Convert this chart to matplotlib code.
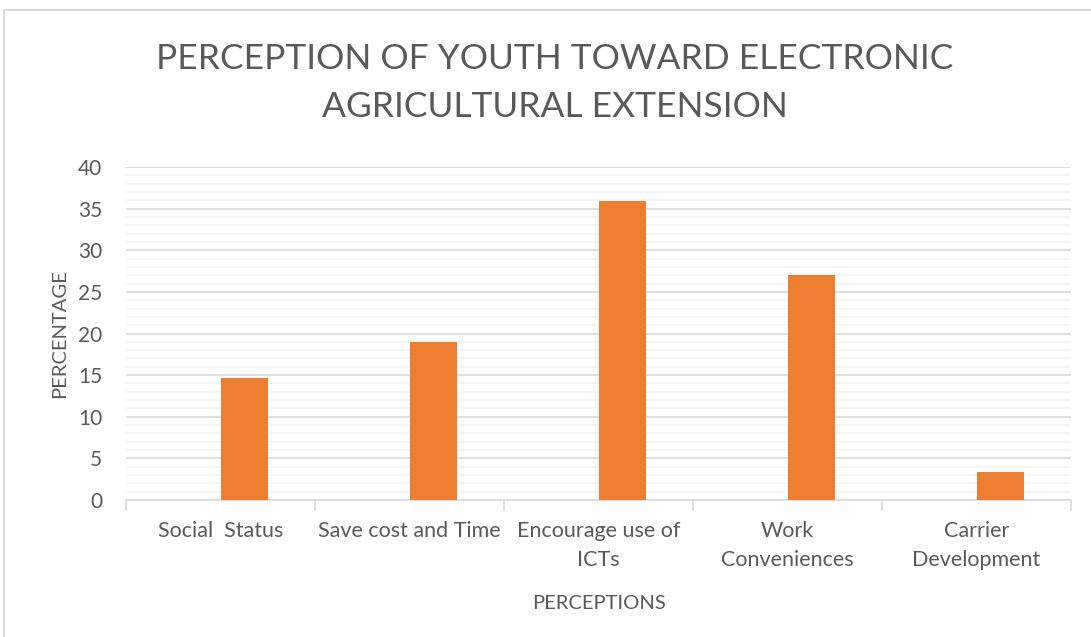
import matplotlib
matplotlib.use("Agg")
import matplotlib.pyplot as plt
from matplotlib.patches import Rectangle
from matplotlib.ticker import MultipleLocator
import numpy as np

# data
categories = ["Social  Status", "Save cost and Time", "Encourage use of\nICTs",
              "Work\nConveniences", "Carrier\nDevelopment"]
percentages = [14.7, 19.0, 35.9, 27.0, 3.4]

TEXT = "#595959"
BAR = "#ED7D31"
plt.rcParams["font.family"] = ["Lato", "DejaVu Sans"]

fig = plt.figure(figsize=(10.91, 6.37), dpi=100)

# chart frame (cut off at the right and bottom in the source)
fig.patches.append(Rectangle((4 / 1091, -0.1), 1.2, 1 - 10 / 637 + 0.1,
                             transform=fig.transFigure, fill=False,
                             edgecolor="#d9d9d9", linewidth=1.5))

ax = fig.add_axes([126 / 1091, 1 - 500 / 637, 945 / 1091, 333 / 637])

x = np.arange(len(categories))
ax.bar(x + 0.125, percentages, width=0.25, color=BAR, zorder=3)

ax.set_xlim(-0.5, len(categories) - 0.5)
ax.set_ylim(0, 40)
ax.yaxis.set_major_locator(MultipleLocator(5))
ax.yaxis.set_minor_locator(MultipleLocator(1))
ax.grid(which="major", axis="y", color="#d9d9d9", linewidth=1.2, zorder=0)
ax.grid(which="minor", axis="y", color="#f2f2f2", linewidth=1.2, zorder=0)

for s in ["top", "right", "left"]:
    ax.spines[s].set_visible(False)
ax.spines["bottom"].set_color("#d9d9d9")
ax.spines["bottom"].set_linewidth(1.2)

ax.set_xticks(x)
ax.set_xticklabels(categories, fontsize=15.5, color=TEXT, linespacing=1.55,
                   va="top")
ax.set_xticks(np.arange(len(categories) + 1) - 0.5, minor=True)
ax.tick_params(axis="x", which="major", length=0, pad=15)
ax.tick_params(axis="x", which="minor", length=8, color="#d9d9d9", width=1.2)
ax.tick_params(axis="y", which="both", length=0, labelsize=15,
               labelcolor=TEXT, pad=17)
ax.set_axisbelow(True)

ax.set_ylabel("PERCENTAGE", fontsize=14.5, color=TEXT, labelpad=7)
ax.set_xlabel("PERCEPTIONS", fontsize=14.5, color=TEXT, labelpad=18)

fig.text(555 / 1091, 1 - 83 / 637,
         "PERCEPTION OF YOUTH TOWARD ELECTRONIC\nAGRICULTURAL EXTENSION",
         ha="center", va="center", fontsize=25.5, color=TEXT,
         linespacing=1.6)

fig.savefig("out.png", dpi=100)
